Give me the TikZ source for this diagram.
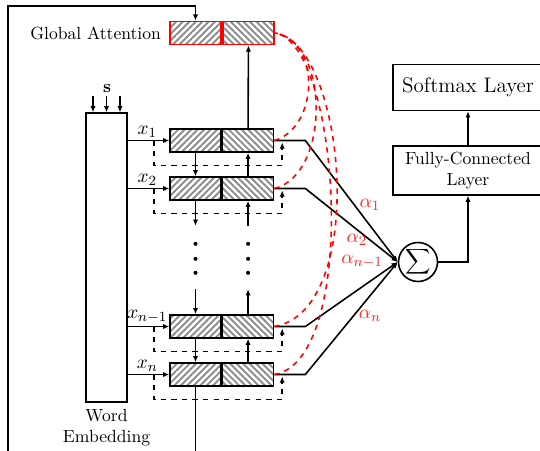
\documentclass[tikz,border=0pt]{standalone}
\usepackage{amsmath}
\usetikzlibrary{arrows.meta,patterns.meta,positioning}
\def\cellw{1.02cm}
\def\cellh{0.46cm}
\def\hatch{1.1pt}
\tikzset{
  half/.style={draw, line width=0.9pt, minimum width=\cellw, minimum height=\cellh, inner sep=0pt, pattern color=gray!90},
  fwd/.style={half, pattern={Lines[angle=45,distance=2.6pt,line width=\hatch]}},
  bwd/.style={half, pattern={Lines[angle=-45,distance=2.6pt,line width=\hatch]}},
  layer/.style={draw, line width=0.9pt, minimum width=3cm, minimum height=0.92cm, align=center},
  link/.style={line width=0.9pt, -{Latex[length=3.5pt,width=3pt]}},
  fb/.style={line width=0.9pt, dashed, -{Latex[length=3.5pt,width=3pt]}},
  att/.style={red, line width=0.9pt, dashed},
  wt/.style={red!85, font=\fontsize{11}{13}\selectfont}
}

\begin{document}
\begin{tikzpicture}[x=0.02cm, y=-0.02cm]
\useasboundingbox (0,0) rectangle (540,450);
\clip (0,0) rectangle (540,450);

% Global attention
\node[fwd, draw=red] (gal) at (195.5,33) {};
\node[bwd, draw=red, anchor=west] (gar) at (gal.east) {};
\node[left=0.04cm of gal] (galab) {Global Attention};

% Word embedding
\node[draw, line width=0.9pt, minimum width=0.82cm, minimum height=5.78cm] (emb) at (106.5,257.5) {};
\node[below=0pt of emb, align=center] (emblab) {Word\\Embedding};
\node (s) at (107,89) {$\mathbf{s}$};
\foreach \dx in {-0.27,0,0.27} {
    \draw[link] ([xshift=\dx cm]emb.north) +(0,-16) -- ([xshift=\dx cm]emb.north);
}

% Sum and output layers
\node[draw, circle, line width=0.9pt, minimum size=0.78cm, inner sep=0pt] (sum) at (418,262) {$\displaystyle\sum$};
\node[layer] (fc) at (468,170.5) {Fully-Connected\\Layer};
\node[layer, font=\large] (soft) at (468,87.5) {Softmax Layer};
\draw[link] (sum.east) -| (fc.south);
\draw[link] (fc.north) -- (soft.south);

% Cells
\foreach \i/\y/\lab in {1/140.5/x_1, 2/188.5/x_2, 3/326.5/x_{n-1}, 4/374.5/x_n} {
    \node[fwd] (f\i) at (195.5,\y) {};
    \node[bwd, anchor=west] (b\i) at (f\i.east) {};
    \draw[link] (emb.east |- f\i.west) -- node[above, pos=0.47, inner sep=1.5pt, font=\fontsize{11}{13}\selectfont] {$\lab$} (f\i.west);
    \draw[fb] (f\i.west) ++(-15,0) -- ++(0,25) -- ++(128,0) -- ++(0,-23); % feedback
    \draw[link] (b\i.east) -- ++(31,0) -- (sum.west); % to sum
}

% Between cells
\draw[link] (f1.south) -- (f2.north);
\draw[link] (b2.north) -- (b1.south);
\draw[link] (f3.south) -- (f4.north);
\draw[link] (b4.north) -- (b3.south);
\draw[link] (b1.north) -- (gar.south);
\draw[link] (f2.south) -- ++(0,25);
\draw[link] (b2.south) ++(0,25) -- (b2.south);
\draw[link] (f3.north) ++(0,-25) -- (f3.north);
\draw[link] (b3.north) -- ++(0,-25);
\foreach \d in {43,58,72} {
    \fill (f2.south) ++(0,\d) circle (1.15pt);
    \fill (b2.south) ++(0,\d) circle (1.15pt);
}

% Loop back to global attention
\draw[link] (f4.south) -- ++(0,90) -| (8,6) -| (gal.north);

% Attention
\foreach \i/\ax/\ay/\bx in {1/318/128/322, 2/330/175/330, 3/370/310/345, 4/360/360/340} {
    \draw[att] (b\i.east) .. controls (\ax,\ay) and (\bx,42) .. (gar.east);
}
\node[wt] (a1) at (370,205) {$\alpha_1$};
\node[wt] (a2) at (357,240) {$\alpha_2$};
\node[wt] (a3) at (362,262) {$\alpha_{n-1}$};
\node[wt] (a4) at (370,316) {$\alpha_n$};

\end{tikzpicture}
\end{document}
